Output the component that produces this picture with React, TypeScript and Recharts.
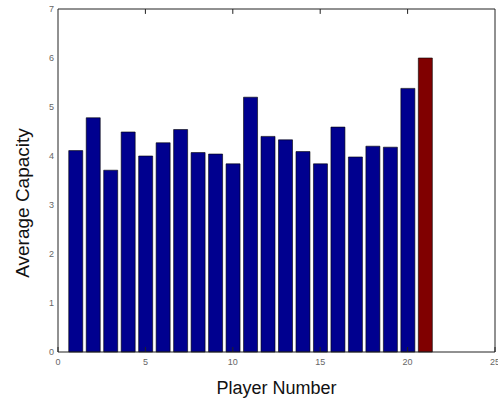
import { ComposedChart, Bar, XAxis, YAxis, Cell, Label, ReferenceLine } from 'recharts';

const players = [1, 2, 3, 4, 5, 6, 7, 8, 9, 10, 11, 12, 13, 14, 15, 16, 17, 18, 19, 20, 21];
const capacity = [4.11, 4.78, 3.71, 4.49, 4.0, 4.27, 4.54, 4.07, 4.04, 3.84, 5.2, 4.4, 4.33, 4.09, 3.84, 4.59, 3.98, 4.2, 4.18, 5.38, 6.0];
const highlight = [21];
const xTicks = [0, 5, 10, 15, 20, 25];
const yTicks = [0, 1, 2, 3, 4, 5, 6, 7];
const xMax = 25;
const yMax = 7;

const data = players.map((p, i) => ({ player: p, capacity: capacity[i] }));

const BLUE = '#00008f';
const RED = '#800000';
const TICK_COLOR = '#666';
const AXIS = '#222';
const FONT = 'Liberation Sans, Arial, sans-serif';

function BottomTick(props: any) {
  const { x, y, payload } = props;
  return (
    <g>
      <line x1={x} y1={y} x2={x} y2={y - 5} stroke={AXIS} strokeWidth={1} />
      <text x={x} y={y + 13} textAnchor="middle" fontSize={9} fill={TICK_COLOR} fontFamily={FONT}>
        {payload.value}
      </text>
    </g>
  );
}

function LeftTick(props: any) {
  const { x, y, payload } = props;
  return (
    <text x={x - 4} y={y + 3} textAnchor="end" fontSize={9} fill={TICK_COLOR} fontFamily={FONT}>
      {payload.value}
    </text>
  );
}

export default function App() {
  return (
    <div style={{ position: 'fixed', left: 0, top: 0, width: 498, height: 402, background: '#fff' }}>
      <ComposedChart
        width={498}
        height={402}
        data={data}
        margin={{ top: 9, right: 3, bottom: 0, left: 28 }}
      >
        <XAxis
          dataKey="player"
          type="number"
          domain={[0, xMax]}
          ticks={xTicks}
          interval={0}
          height={50}
          tickSize={0}
          tickMargin={0}
          tickLine={false}
          axisLine={{ stroke: AXIS, strokeWidth: 1 }}
          tick={BottomTick}
          allowDataOverflow
        >
          <Label
            content={(p: any) => {
              const vb = p.viewBox;
              return (
                <text x={vb.x + vb.width / 2} y={394} textAnchor="middle" fontSize={18} fill="#111" fontFamily={FONT}>
                  Player Number
                </text>
              );
            }}
          />
        </XAxis>
        <YAxis
          type="number"
          domain={[0, yMax]}
          ticks={yTicks}
          interval={0}
          width={30}
          tickSize={0}
          tickMargin={0}
          tickLine={false}
          axisLine={{ stroke: AXIS, strokeWidth: 1 }}
          tick={LeftTick}
        >
          <Label
            content={() => (
              <text
                x={0}
                y={0}
                transform="translate(29,203) rotate(-90)"
                textAnchor="middle"
                fontSize={19}
                fill="#111"
                fontFamily={FONT}
              >
                Average Capacity
              </text>
            )}
          />
        </YAxis>
        <Bar
          dataKey="capacity"
          barSize={14}
          stroke="#000"
          strokeWidth={0.6}
          isAnimationActive={false}
        >
          {data.map((d) => (
            <Cell key={d.player} fill={highlight.includes(d.player) ? RED : BLUE} />
          ))}
        </Bar>
        <ReferenceLine y={yMax} stroke={AXIS} strokeWidth={1} ifOverflow="extendDomain" />
        <ReferenceLine x={xMax} stroke={AXIS} strokeWidth={1} ifOverflow="extendDomain" />
        {xTicks.slice(1, -1).map((t) => (
          <ReferenceLine
            key={t}
            segment={[{ x: t, y: yMax }, { x: t, y: yMax - 0.1 }]}
            stroke={AXIS}
            strokeWidth={1}
          />
        ))}
      </ComposedChart>
    </div>
  );
}
